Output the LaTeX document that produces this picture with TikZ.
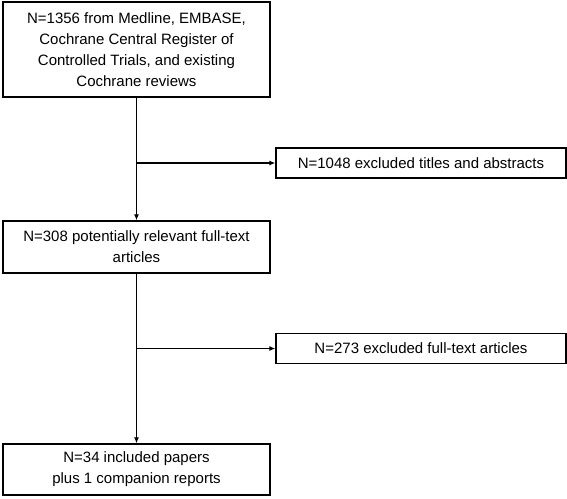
\documentclass[tikz,border=0pt]{standalone}
\usepackage{fontspec}
\setmainfont{Liberation Sans}
\usetikzlibrary{arrows.meta, positioning}

\begin{document}
\begin{tikzpicture}[x=1pt,y=1pt,on grid,line width=1.3pt,>={Latex[length=6pt,width=5pt]}]
  \tikzstyle{every node}=[font=\fontsize{15}{21}\selectfont]
  \tikzstyle{mainbox}=[draw,line width=1.3pt,align=center,minimum width=267pt,inner sep=2pt]
  \tikzstyle{exclbox}=[draw,line width=1.3pt,align=center,minimum width=290pt,minimum height=30pt]

  \useasboundingbox (0,0) rectangle (567,-498);

  \node[mainbox,minimum height=95pt] (found) at (136.5,-49.5)
    {N=1356 from Medline, EMBASE,\\Cochrane Central Register of\\Controlled Trials, and existing\\Cochrane reviews};
  \node[mainbox,minimum height=52pt] (fulltext)   [below=197.5pt of found]
    {N=308 potentially relevant full-text\\articles};
  \node[mainbox,minimum height=51pt] (included)   [below=222.5pt of fulltext]
    {N=34 included papers\\plus 1 companion reports};
  \node[exclbox] (excltitles) [below right=113.5pt and 284.5pt of found]
    {N=1048 excluded titles and abstracts};
  \node[exclbox] (excltext)   [below right=101.5pt and 284.5pt of fulltext]
    {N=273 excluded full-text articles};

  \coordinate (split1) at (found.south |- excltitles.west);
  \coordinate (split2) at (fulltext.south |- excltext.west);

  \draw[->] (found) -- (fulltext);
  \draw[->] (fulltext) -- (included);
  \draw[->] (split1) -- (excltitles);
  \draw[->] (split2) -- (excltext);
\end{tikzpicture}
\end{document}
